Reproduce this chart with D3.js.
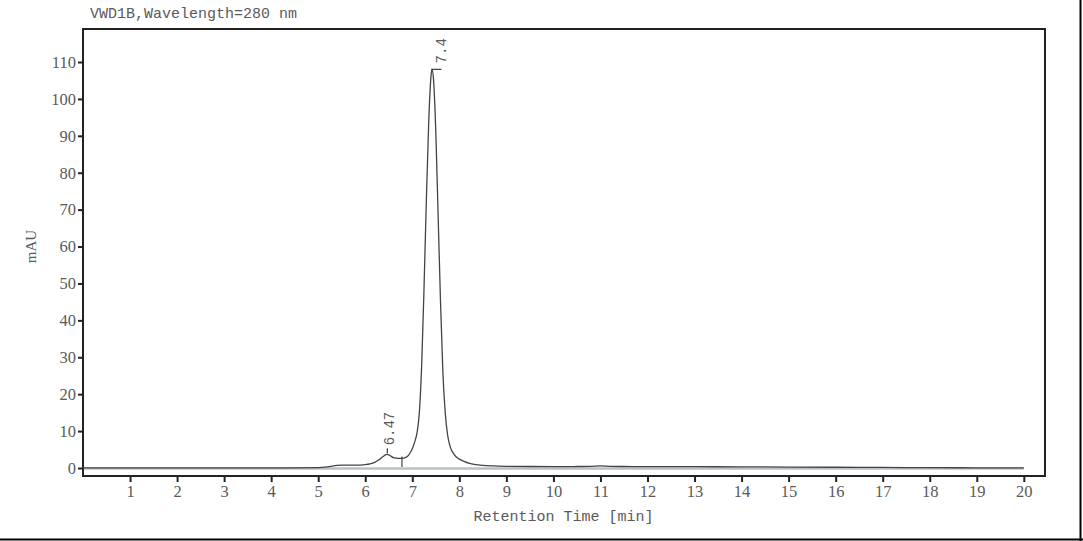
<!DOCTYPE html>
<html>
<head>
<meta charset="utf-8">
<title>VWD1B chromatogram</title>
<script src="https://cdn.jsdelivr.net/npm/d3@7/dist/d3.min.js"></script>
<style>
  body { margin: 0; background: #fff; }
</style>
</head>
<body>
<svg width="1083" height="541" id="mainsvg"></svg>
<script>
// data
const times = [0, 1, 2, 3, 4, 5, 5.2, 5.4, 5.5, 5.7, 5.9, 6.0, 6.1, 6.2, 6.3, 6.38, 6.44, 6.47, 6.52, 6.6, 6.7,
  6.78, 6.85, 6.9, 6.95, 7.0, 7.05, 7.1, 7.15, 7.2, 7.25, 7.3, 7.35, 7.4, 7.42, 7.45, 7.5, 7.55, 7.6, 7.65, 7.7,
  7.75, 7.8, 7.9, 8.0, 8.1, 8.2, 8.35, 8.5, 8.75, 9.0, 9.5, 10.0, 10.5, 10.8, 11.0, 11.2, 11.5, 12, 13, 14,
  15, 16, 17, 18, 19, 20];
const mau = [0.05, 0.05, 0.05, 0.05, 0.05, 0.1, 0.3, 0.7, 0.8, 0.75, 0.8, 0.9, 1.1, 1.5, 2.3, 3.1, 3.6, 3.7, 3.4, 2.8, 2.6,
  2.6, 2.8, 3.2, 4.0, 5.2, 7.0, 9.5, 15, 28, 49, 73, 94, 106.5, 108, 105.5, 91, 68, 45, 26, 15,
  9, 6, 3.5, 2.4, 1.8, 1.3, 0.9, 0.7, 0.55, 0.45, 0.4, 0.35, 0.4, 0.45, 0.55, 0.45, 0.4, 0.35, 0.35, 0.3,
  0.25, 0.2, 0.15, 0.1, 0.05, 0.05];

const peakTimes = [6.47, 7.4];
const peakHeights = [3.7, 108];
const peakLabels = ["6.47", "7.4"];
const dropTime = 6.78;
const dropHeight = 2.6;

const xTicks = d3.range(1, 21);
const yTicks = d3.range(0, 111, 10);
const title = "VWD1B,Wavelength=280 nm";
const xAxisLabel = "Retention Time [min]";
const yAxisLabel = "mAU";

const svg = d3.select("#mainsvg");
const box = {left: 83, top: 29, right: 1045, bottom: 476};

const xScale = d3.scaleLinear().domain([0, 20.45]).range([box.left, box.right]);
const yScale = d3.scaleLinear().domain([-2.17, 118.94]).range([box.bottom, box.top]);

const textColor = "#5a5a5a";
const monoFont = "'Liberation Mono', 'DejaVu Sans Mono', monospace";
const serifFont = "'Liberation Serif', 'DejaVu Serif', serif";

// outer image border (bottom and right)
svg.append("line").attr("x1", 0).attr("x2", 1083).attr("y1", 539.5).attr("y2", 539.5)
  .attr("stroke", "#000").attr("stroke-width", 2);
svg.append("line").attr("x1", 1080.5).attr("x2", 1080.5).attr("y1", 0).attr("y2", 541)
  .attr("stroke", "#000").attr("stroke-width", 2);

// title
svg.append("text")
  .attr("x", 90).attr("y", 18)
  .attr("font-family", monoFont).attr("font-size", 15)
  .attr("fill", textColor)
  .text(title);

// baseline
svg.append("line")
  .attr("x1", xScale(0)).attr("x2", xScale(20))
  .attr("y1", yScale(0) + 0.5).attr("y2", yScale(0) + 0.5)
  .attr("stroke", "#b8c0c8").attr("stroke-width", 2.5);

// axes
const xAxis = d3.axisBottom(xScale).tickValues(xTicks).tickSize(6).tickPadding(3).tickSizeOuter(0);
const xg = svg.append("g").attr("transform", `translate(0, ${box.bottom})`).call(xAxis);
xg.select(".domain").remove();
xg.selectAll(".tick line").attr("stroke", "#222").attr("stroke-width", 2);
xg.selectAll(".tick text").attr("font-family", serifFont).attr("font-size", 16.5).attr("fill", textColor);

const yAxis = d3.axisLeft(yScale).tickValues(yTicks).tickSize(5).tickPadding(2).tickSizeOuter(0);
const yg = svg.append("g").attr("transform", `translate(${box.left}, 0)`).call(yAxis);
yg.select(".domain").remove();
yg.selectAll(".tick line").attr("stroke", "#222").attr("stroke-width", 2);
yg.selectAll(".tick text").attr("font-family", serifFont).attr("font-size", 16.5).attr("fill", textColor);

// frame
svg.append("rect")
  .attr("x", box.left).attr("y", box.top)
  .attr("width", box.right - box.left).attr("height", box.bottom - box.top)
  .attr("fill", "none").attr("stroke", "#222").attr("stroke-width", 2);

// axis labels
svg.append("text")
  .attr("x", (xScale(0) + xScale(20)) / 2 + 10).attr("y", 521)
  .attr("text-anchor", "middle")
  .attr("font-family", monoFont).attr("font-size", 15)
  .attr("fill", textColor)
  .text(xAxisLabel);

svg.append("text")
  .attr("transform", `translate(36, ${yScale(60)}) rotate(-90)`)
  .attr("text-anchor", "middle")
  .attr("font-family", serifFont).attr("font-size", 15)
  .attr("fill", textColor)
  .text(yAxisLabel);

// trace
const points = times.map((t, i) => [t, mau[i]]);
const line = d3.line()
  .x(d => xScale(d[0]))
  .y(d => yScale(d[1]))
  .curve(d3.curveMonotoneX);

svg.append("path")
  .datum(points)
  .attr("d", line)
  .attr("fill", "none")
  .attr("stroke", "#444")
  .attr("stroke-width", 1.3);

// peak markers
// small peak: short tick above apex
svg.append("line")
  .attr("x1", xScale(peakTimes[0])).attr("x2", xScale(peakTimes[0]))
  .attr("y1", yScale(peakHeights[0]) - 1).attr("y2", yScale(peakHeights[0]) - 6)
  .attr("stroke", "#444").attr("stroke-width", 1.3);
// main peak: flat mark at apex
svg.append("line")
  .attr("x1", xScale(peakTimes[1])).attr("x2", xScale(peakTimes[1] + 0.22))
  .attr("y1", yScale(peakHeights[1])).attr("y2", yScale(peakHeights[1]))
  .attr("stroke", "#444").attr("stroke-width", 1.3);
// valley drop line
svg.append("line")
  .attr("x1", xScale(dropTime)).attr("x2", xScale(dropTime))
  .attr("y1", yScale(dropHeight) - 2).attr("y2", yScale(0) - 1)
  .attr("stroke", "#444").attr("stroke-width", 1.2);

// peak labels
const labelDx = [7, 15];
const labelDy = [9, 6];
peakLabels.forEach((lab, i) => {
  svg.append("text")
    .attr("transform", `translate(${xScale(peakTimes[i]) + labelDx[i]}, ${yScale(peakHeights[i]) - labelDy[i]}) rotate(-90)`)
    .attr("font-family", monoFont).attr("font-size", 14)
    .attr("fill", textColor)
    .text(lab);
});
</script>
</body>
</html>
